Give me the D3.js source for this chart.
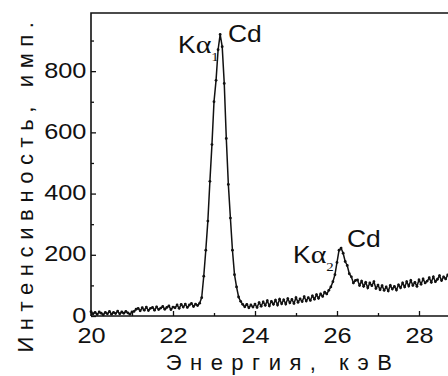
<!DOCTYPE html>
<html>
<head>
<meta charset="utf-8">
<script src="https://cdn.jsdelivr.net/npm/d3@7"></script>
<style>
    html, body { margin: 0; padding: 0; background: #fff; overflow: hidden; }
    text { font-family: "Liberation Sans", Arial, sans-serif; fill: #111; }
</style>
</head>
<body>
<div id="spectrum"></div>
<script>
// channel energies, keV
let energy = [
    20.00, 20.05, 20.10, 20.15, 20.20, 20.25, 20.30, 20.35, 20.40, 20.45, 20.50, 20.55, 20.60, 20.65, 20.70, 20.75,
    20.80, 20.85, 20.90, 20.95, 21.00, 21.05, 21.10, 21.15, 21.20, 21.25, 21.30, 21.35, 21.40, 21.45, 21.50, 21.55,
    21.60, 21.65, 21.70, 21.75, 21.80, 21.85, 21.90, 21.95, 22.00, 22.05, 22.10, 22.15, 22.20, 22.25, 22.30, 22.35,
    22.40, 22.45, 22.50, 22.55, 22.60, 22.65, 22.70, 22.75, 22.80, 22.85, 22.90, 22.95, 23.00, 23.05, 23.10, 23.15,
    23.20, 23.25, 23.30, 23.35, 23.40, 23.45, 23.50, 23.55, 23.60, 23.65, 23.70, 23.75, 23.80, 23.85, 23.90, 23.95,
    24.00, 24.05, 24.10, 24.15, 24.20, 24.25, 24.30, 24.35, 24.40, 24.45, 24.50, 24.55, 24.60, 24.65, 24.70, 24.75,
    24.80, 24.85, 24.90, 24.95, 25.00, 25.05, 25.10, 25.15, 25.20, 25.25, 25.30, 25.35, 25.40, 25.45, 25.50, 25.55,
    25.60, 25.65, 25.70, 25.75, 25.80, 25.85, 25.90, 25.95, 26.00, 26.05, 26.10, 26.15, 26.20, 26.25, 26.30, 26.35,
    26.40, 26.45, 26.50, 26.55, 26.60, 26.65, 26.70, 26.75, 26.80, 26.85, 26.90, 26.95, 27.00, 27.05, 27.10, 27.15,
    27.20, 27.25, 27.30, 27.35, 27.40, 27.45, 27.50, 27.55, 27.60, 27.65, 27.70, 27.75, 27.80, 27.85, 27.90, 27.95,
    28.00, 28.05, 28.10, 28.15, 28.20, 28.25, 28.30, 28.35, 28.40, 28.45, 28.50, 28.55, 28.60, 28.65, 28.70
];
// counts per channel
let counts = [
    14, 7, 12, 5, 13, 9, 4, 12, 7, 15, 6, 12, 8, 16, 7, 13,
    9, 15, 10, 6, 13, 15, 22, 25, 17, 27, 19, 29, 18, 25, 28, 19,
    30, 21, 26, 31, 22, 28, 33, 21, 29, 27, 36, 25, 38, 29, 39, 28,
    36, 41, 31, 39, 34, 42, 60, 130, 215, 310, 440, 560, 700, 770, 870, 920,
    880, 760, 580, 430, 320, 215, 135, 95, 62, 48, 38, 30, 38, 27, 36, 29,
    39, 28, 44, 32, 46, 35, 50, 33, 48, 38, 52, 36, 55, 40, 53, 39,
    57, 43, 54, 41, 60, 45, 56, 47, 63, 49, 60, 51, 66, 55, 70, 58,
    72, 64, 78, 72, 84, 95, 112, 135, 175, 215, 222, 205, 178, 165, 138, 128,
    108, 116, 118, 100, 114, 97, 110, 92, 108, 99, 112, 90, 101, 86, 99, 84,
    95, 82, 100, 88, 97, 85, 102, 92, 108, 95, 112, 98, 116, 100, 110, 97,
    118, 104, 121, 108, 114, 125, 110, 128, 112, 120, 132, 116, 128, 121, 134
];
let xTicks = [20, 22, 24, 26, 28];
let xMinor = [21, 23, 25, 27, 29];
let yTicks = [0, 200, 400, 600, 800];
let yMinor = [100, 300, 500, 700, 900];
let xTitle = 'Энергия, кэВ';
let yTitle = 'Интенсивность, имп.';

let data = energy.map((e, i) => ({ e: e, c: counts[i] }));

let W = 448, H = 376;
let margin = { left: 91, top: 13, bottom: 316, right: 501 };
// the source picture is a little stretched sideways
let stretch = 'scale(1.15,1)';

let svg = d3.select('#spectrum').append('svg')
    .attr('width', W)
    .attr('height', H);

let x = d3.scaleLinear().domain([20, 30]).range([margin.left, margin.right]);
let y = d3.scaleLinear().domain([0, 990]).range([margin.bottom, margin.top]);

// minor ticks
svg.append('g')
    .attr('transform', `translate(0,${margin.bottom})`)
    .call(d3.axisBottom(x).tickValues(xMinor).tickSize(-3).tickFormat(''))
    .call(g => g.select('.domain').remove());
svg.append('g')
    .attr('transform', `translate(${margin.left},0)`)
    .call(d3.axisLeft(y).tickValues(yMinor).tickSize(-3).tickFormat(''))
    .call(g => g.select('.domain').remove());

// major ticks
let xAxis = svg.append('g')
    .attr('transform', `translate(0,${margin.bottom})`)
    .call(d3.axisBottom(x).tickValues(xTicks).tickSize(-5))
    .call(g => g.select('.domain').remove());
xAxis.selectAll('text')
    .attr('font-size', 22)
    .attr('dy', '0.71em')
    .attr('y', 11)
    .attr('transform', stretch);

let yAxis = svg.append('g')
    .attr('transform', `translate(${margin.left},0)`)
    .call(d3.axisLeft(y).tickValues(yTicks).tickSize(-5))
    .call(g => g.select('.domain').remove());
yAxis.selectAll('text')
    .attr('font-size', 22)
    .attr('x', -4)
    .attr('dy', '0.28em')
    .attr('transform', stretch);

svg.selectAll('.tick line').attr('stroke', '#111').attr('stroke-width', 1.3);

// frame
svg.append('path')
    .attr('d', `M${margin.left},${margin.bottom}H${margin.right}M${margin.left},${margin.bottom}V${margin.top}H${margin.right}`)
    .attr('fill', 'none')
    .attr('stroke', '#111')
    .attr('stroke-width', 1.6);

// spectrum
let line = d3.line().x(d => x(d.e)).y(d => y(d.c));
svg.append('path')
    .datum(data)
    .attr('d', line)
    .attr('fill', 'none')
    .attr('stroke', '#111')
    .attr('stroke-width', 1.5);
svg.append('g').selectAll('circle').data(data).enter().append('circle')
    .attr('cx', d => x(d.e))
    .attr('cy', d => y(d.c))
    .attr('r', 1.4)
    .attr('fill', '#111');

// axis titles
svg.append('text')
    .attr('x', 283)
    .attr('y', 370)
    .attr('text-anchor', 'middle')
    .attr('font-size', 22)
    .attr('letter-spacing', 8.5)
    .text(xTitle);

svg.append('text')
    .attr('transform', 'translate(33,184) rotate(-90)')
    .attr('text-anchor', 'middle')
    .attr('font-size', 22)
    .attr('letter-spacing', 6.6)
    .text(yTitle);

// peak labels
function peakLabel(px, py, sub, cx, cy) {
    let t = svg.append('text')
        .attr('transform', `translate(${px},${py}) ${stretch}`)
        .attr('font-size', 23);
    t.append('tspan').text('K');
    t.append('tspan').attr('font-family', '"Liberation Serif", serif').attr('font-size', 26).text('α');
    t.append('tspan').attr('font-family', '"Liberation Serif", serif').attr('font-size', 13)
        .attr('dy', 8).text(sub);
    svg.append('text')
        .attr('transform', `translate(${cx},${cy}) ${stretch}`)
        .attr('font-size', 23)
        .text('Cd');
}
peakLabel(178, 53, '1', 228, 42);
peakLabel(293, 263, '2', 347, 247);
</script>
</body>
</html>
